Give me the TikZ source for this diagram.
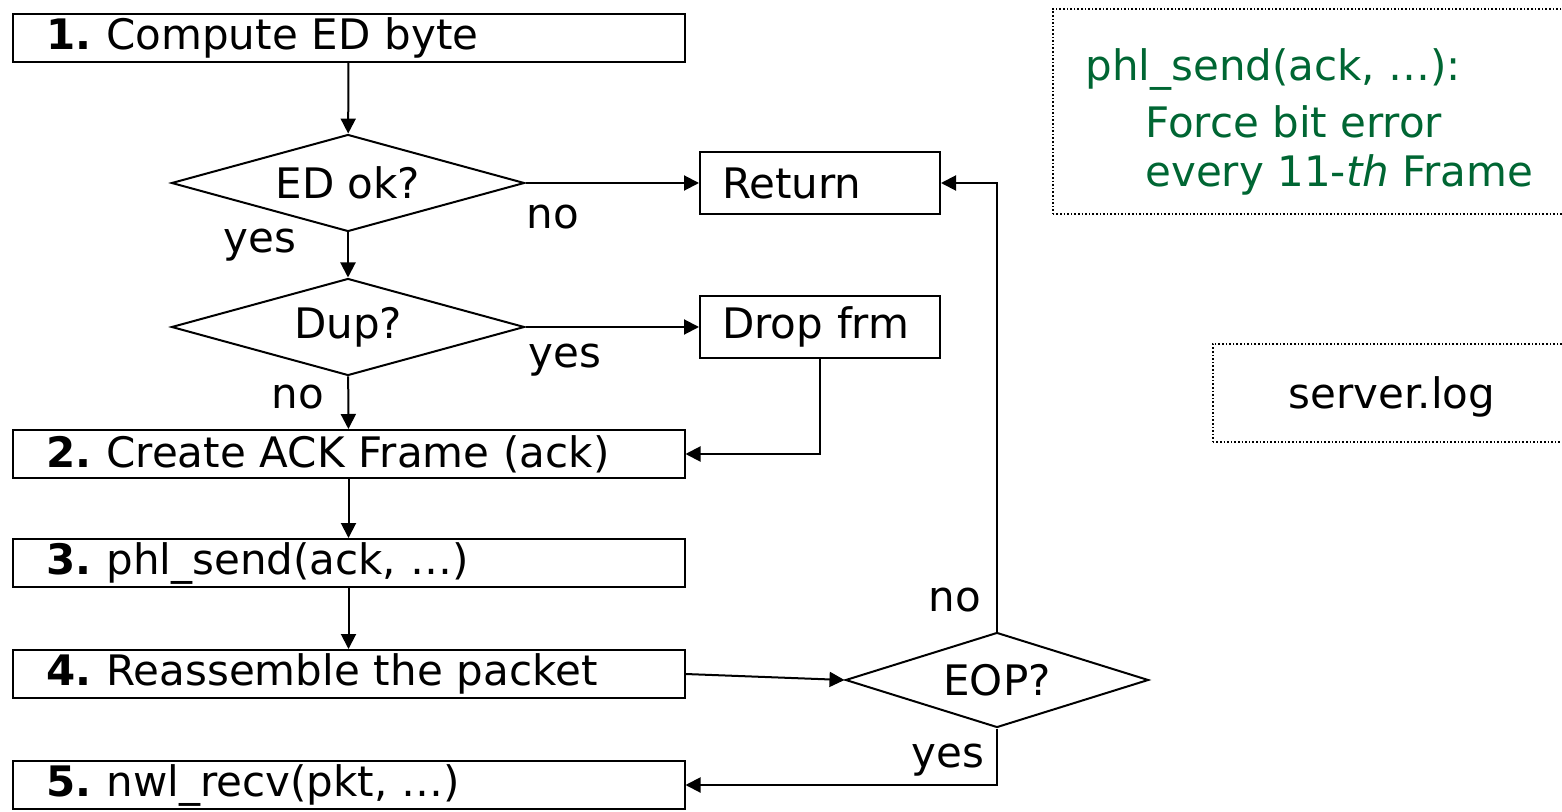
\documentclass[tikz,border=0pt]{standalone}
\usepackage{fontspec}
\setmainfont{DejaVu Sans}
\usetikzlibrary{shapes.geometric,arrows.meta}
\definecolor{notegreen}{RGB}{0,102,51}
\newcommand{\stepnum}[1]{\textbf{#1.}\hspace{0.35em}}
\begin{document}
\begin{tikzpicture}[x=0.5pt,y=-0.5pt,
  font=\fontsize{21}{25}\selectfont,
  every node/.style={inner sep=0pt},
  stepbox/.style={draw, line width=1pt, minimum height=24pt, text width=302pt, inner xsep=17pt, align=left},
  smallbox/.style={draw, line width=1pt, minimum height=31pt, text width=98pt, inner xsep=11pt, align=left},
  decision/.style={draw, line width=1pt, shape=diamond, aspect=3.6, minimum width=176.5pt, minimum height=48.5pt},
  notebox/.style={draw, densely dotted, line width=0.8pt, anchor=north west},
  arr/.style={line width=1pt, -{Triangle[length=7.5pt,width=7.5pt]}},
  notetext/.style={text=notegreen, anchor=base west}
]
\useasboundingbox (0,0) rectangle (1562,812);

% main steps
\node[stepbox] (b1) at (348.5,38) {\stepnum{1}Compute ED byte};
\node[decision] (d1) at (348,183) {ED ok?};
\node[smallbox] (ret) at (820,183) {Return};
\node[decision] (d2) at (348,327) {Dup?};
\node[smallbox] (drop) at (820,327) {Drop frm};
\node[stepbox] (b2) at (348.5,454) {\stepnum{2}Create ACK Frame (ack)};
\node[stepbox] (b3) at (348.5,563) {\stepnum{3}phl\_send(ack, …)};
\node[stepbox] (b4) at (348.5,674) {\stepnum{4}Reassemble the packet};
\node[decision, aspect=3.2, minimum width=151.5pt, minimum height=47.5pt] (eop) at (997,680) {EOP?};
\node[stepbox] (b5) at (348.5,785) {\stepnum{5}nwl\_recv(pkt, …)};

% connectors
\draw[arr] (b1) -- (d1);
\draw[arr] (d1) -- (ret);
\draw[arr] (d1) -- (d2);
\draw[arr] (d2) -- (drop);
\draw[arr] (d2) -- (b2);
\draw[arr] (drop.south) |- (b2.east);
\draw[arr] (b2) -- (b3);
\draw[arr] (b3) -- (b4);
\draw[arr] (b4.east) -- (eop.west);
\draw[arr] (eop.north) |- (ret.east);
\draw[arr] (eop.south) |- (b5.east);

% labels
\node (l1) at (553,217) {no};
\node (l2) at (260,245) {yes};
\node (l3) at (565,360) {yes};
\node (l4) at (298,397) {no};
\node (l5) at (955,600) {no};
\node (l6) at (948,760) {yes};

% notes
\node[notebox, minimum width=300pt, minimum height=102.5pt] (n1) at (1052,8) {};
\node[notetext] (t1) at (1085,81) {phl\_send(ack, …):};
\node[notetext] (t2) at (1145,138) {Force bit error};
\node[notetext] (t3) at (1145,187) {every 11-\textit{th} Frame};
\node[notebox, minimum width=250pt, minimum height=49pt] (n2) at (1212,343) {};
\node (t4) at (1392,397) {server.log};
\end{tikzpicture}
\end{document}
